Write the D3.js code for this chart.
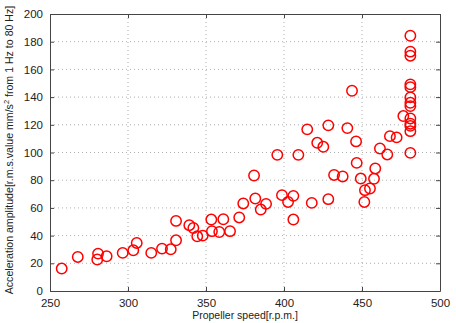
<!DOCTYPE html>
<html>
<head>
<meta charset="utf-8">
<script src="https://cdn.jsdelivr.net/npm/d3@7"></script>
<style>
  body { margin: 0; background: #fff; }
  text { font-family: "Liberation Sans", Arial, sans-serif; fill: #222; }
</style>
</head>
<body>
<div id="chart"></div>
<script>
// propeller speed (r.p.m.) and acceleration amplitude (mm/s^2)
var speed = [257.5, 267.8, 280.8, 280.3, 286.3, 296.6, 303.4, 305.6, 314.9, 321.8,
  327.4, 330.8, 330.8, 339.3, 341.9, 344.4, 347.9, 353.4, 353.8, 358.5,
  361.1, 365.4, 371.3, 373.9, 381.6, 380.8, 385.1, 388.5, 395.7, 398.7,
  402.6, 406.0, 406.0, 409.2, 414.9, 417.8, 421.3, 425.2, 428.4, 428.4,
  432.1, 437.6, 440.6, 443.6, 446.2, 446.6, 449.2, 451.5, 451.9, 455.1,
  457.7, 458.5, 461.5, 466.2, 467.9, 472.2, 476.5,
  481, 481, 481, 481, 481, 481, 481, 481, 481, 481, 481, 481, 481];
var amplitude = [16.2, 24.6, 27.0, 22.7, 25.1, 27.5, 29.4, 34.7, 27.5, 30.6,
  30.1, 36.6, 50.6, 47.5, 45.5, 39.5, 40.0, 51.6, 43.2, 42.6,
  51.8, 43.2, 53.1, 63.2, 66.8, 83.4, 58.8, 62.9, 98.3, 69.2,
  64.3, 68.7, 51.6, 98.3, 116.7, 63.6, 107.0, 104.1, 119.6, 66.3,
  83.8, 82.7, 117.6, 144.6, 108.0, 92.5, 81.2, 64.3, 72.8, 74.0,
  81.0, 88.5, 102.9, 98.6, 111.8, 110.9, 126.3,
  184.3, 172.8, 169.9, 149.2, 147.2, 139.8, 135.9, 133.5, 124.6, 120.8, 119.2, 115.4, 99.7];
var xTicks = [250, 300, 350, 400, 450, 500];
var yTicks = [0, 20, 40, 60, 80, 100, 120, 140, 160, 180, 200];

var margin = {top: 14, right: 16, bottom: 32, left: 50};
var W = 456, H = 323;
var width = W - margin.left - margin.right,
    height = H - margin.top - margin.bottom;

var svg = d3.select("#chart").append("svg")
    .attr("width", W)
    .attr("height", H);
var g = svg.append("g")
    .attr("transform", "translate(" + margin.left + "," + margin.top + ")");

var x = d3.scaleLinear().domain([250, 500]).range([0, width]);
var y = d3.scaleLinear().domain([0, 200]).range([height, 0]);

// dotted grid
g.append("g").selectAll("line").data(xTicks.slice(1, -1)).enter().append("line")
    .attr("x1", function(d) { return x(d); }).attr("x2", function(d) { return x(d); })
    .attr("y1", 0).attr("y2", height)
    .attr("stroke", "#999").attr("stroke-width", 0.8).attr("stroke-dasharray", "1,3");
g.append("g").selectAll("line").data(yTicks.slice(1, -1)).enter().append("line")
    .attr("y1", function(d) { return y(d); }).attr("y2", function(d) { return y(d); })
    .attr("x1", 0).attr("x2", width)
    .attr("stroke", "#999").attr("stroke-width", 0.8).attr("stroke-dasharray", "1,3");

// axes, ticks pointing inwards (matlab style)
var xAxis = g.append("g").attr("transform", "translate(0," + height + ")")
    .call(d3.axisBottom(x).tickValues(xTicks).tickSizeInner(-4).tickSizeOuter(0).tickPadding(8));
var xTop = g.append("g")
    .call(d3.axisTop(x).tickValues(xTicks).tickSizeInner(-4).tickSizeOuter(0).tickFormat(""));
var yAxis = g.append("g")
    .call(d3.axisLeft(y).tickValues(yTicks).tickSizeInner(-4).tickSizeOuter(0).tickPadding(7));
var yRight = g.append("g").attr("transform", "translate(" + width + ",0)")
    .call(d3.axisRight(y).tickValues(yTicks).tickSizeInner(-4).tickSizeOuter(0).tickFormat(""));

[xAxis, xTop, yAxis, yRight].forEach(function(a) {
  a.selectAll("path, line").attr("stroke", "#444");
  a.selectAll("text").style("font-size", "11.5px").attr("fill", "#222");
});

// data points
g.append("g").selectAll("circle")
    .data(speed.map(function(s, i) { return {s: s, a: amplitude[i]}; }))
    .enter().append("circle")
    .attr("cx", function(d) { return x(d.s); })
    .attr("cy", function(d) { return y(d.a); })
    .attr("r", 5.2)
    .attr("fill", "none")
    .attr("stroke", "#ff0000")
    .attr("stroke-width", 1.5);

// labels
svg.append("text")
    .attr("x", margin.left + width / 2)
    .attr("y", H - 4)
    .attr("text-anchor", "middle")
    .style("font-size", "10.5px")
    .text("Propeller speed[r.p.m.]");

var yl = svg.append("text")
    .attr("transform", "translate(13,150) rotate(-90)")
    .attr("text-anchor", "middle")
    .style("font-size", "10.6px");
yl.append("tspan").text("Acceleration amplitude[r.m.s.value mm/s");
yl.append("tspan").attr("dy", "-4").style("font-size", "7.5px").text("2");
yl.append("tspan").attr("dy", "4").text(" from 1 Hz to 80 Hz]");
</script>
</body>
</html>
